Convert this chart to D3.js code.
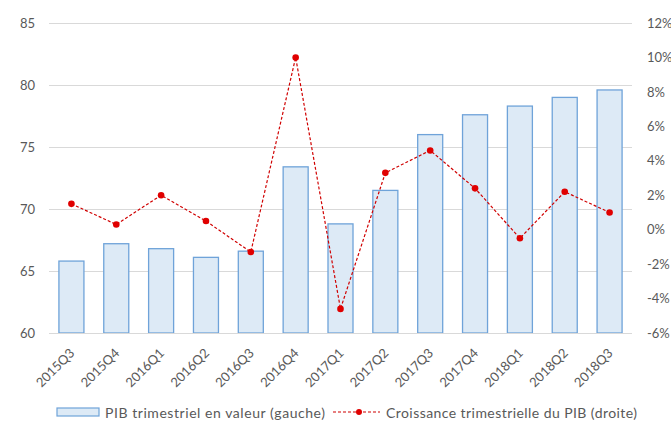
<!DOCTYPE html>
<html><head><meta charset="utf-8">
<script src="https://cdn.jsdelivr.net/npm/d3@7"></script>
<style>body{margin:0;background:#fff}svg text{font-family:Lato,"Open Sans",sans-serif;fill:#595959}</style>
</head><body><svg id="c" width="671" height="421"></svg>
<script>
const categories=["2015Q3","2015Q4","2016Q1","2016Q2","2016Q3","2016Q4","2017Q1","2017Q2","2017Q3","2017Q4","2018Q1","2018Q2","2018Q3"];
const pibValues=[65.8,67.2,66.8,66.1,66.6,73.4,68.8,71.5,76.0,77.6,78.3,79.0,79.6];
const growthValues=[1.5,0.3,2.0,0.5,-1.3,10.0,-4.6,3.3,4.6,2.4,-0.5,2.2,1.0];
const leftTicks=[60,65,70,75,80,85];
const rightTicks=[-6,-4,-2,0,2,4,6,8,10,12];
const legendLabels=["PIB trimestriel en valeur (gauche)","Croissance trimestrielle du PIB (droite)"];

const svg=d3.select("#c");
const L=49,R=632,T=23,B=333;
const x=d3.scaleBand().domain(categories).range([L,R]).paddingInner(0.42).paddingOuter(0.21);
const y=d3.scaleLinear().domain([60,85]).range([B,T]);
const y2=d3.scaleLinear().domain([-6,12]).range([B,T]);

// gridlines
svg.append("g").selectAll("line").data(leftTicks).join("line")
  .attr("x1",L).attr("x2",R).attr("y1",d=>y(d)+0.5).attr("y2",d=>y(d)+0.5)
  .attr("stroke","#d9d9d9").attr("stroke-width",1);

// left axis
const la=svg.append("g").attr("transform",`translate(${L},0)`)
  .call(d3.axisLeft(y).tickValues(leftTicks).tickSize(0).tickPadding(14));
la.select(".domain").remove();
la.selectAll("text").attr("font-size",13).style("fill","#595959");

// right axis
const ra=svg.append("g").attr("transform",`translate(${R},0)`)
  .call(d3.axisRight(y2).tickValues(rightTicks).tickSize(0).tickPadding(15).tickFormat(d=>d+"%"));
ra.select(".domain").remove();
ra.selectAll("text").attr("font-size",13).style("fill","#595959");

// bars
svg.append("g").selectAll("rect").data(pibValues).join("rect")
  .attr("x",(d,i)=>x(categories[i])+0.5).attr("width",x.bandwidth()-1)
  .attr("y",d=>y(d)).attr("height",d=>y(60)-y(d))
  .attr("fill","#ddeaf6").attr("stroke","#6fa3d9").attr("stroke-width",1.3);

// x axis labels
const xa=svg.append("g").attr("transform",`translate(0,${B})`)
  .call(d3.axisBottom(x).tickSize(0).tickPadding(0));
xa.select(".domain").remove();
xa.selectAll("text").attr("font-size",13).style("fill","#595959")
  .attr("text-anchor","end").attr("dy",0)
  .attr("transform","translate(4,21) rotate(-45)");

// baseline
svg.append("line").attr("x1",L).attr("x2",R).attr("y1",B+0.5).attr("y2",B+0.5).attr("stroke","#d9d9d9");

// line
const cx=(i)=>x(categories[i])+x.bandwidth()/2;
svg.append("path").datum(growthValues)
  .attr("d",d3.line().x((d,i)=>cx(i)).y(d=>y2(d)))
  .attr("fill","none").attr("stroke","#d00000").attr("stroke-width",1.2).attr("stroke-dasharray","3,2");
svg.append("g").selectAll("circle").data(growthValues).join("circle")
  .attr("cx",(d,i)=>cx(i)).attr("cy",d=>y2(d)).attr("r",3.3).attr("fill","#e00000");

// legend
const lg=svg.append("g");
lg.append("rect").attr("x",57).attr("y",408).attr("width",42).attr("height",8)
  .attr("fill","#ddeaf6").attr("stroke","#6fa3d9").attr("stroke-width",1.2);
lg.append("text").attr("x",105).attr("y",418).attr("font-size",14)
  .attr("textLength",220).attr("lengthAdjust","spacing").text(legendLabels[0]);
lg.append("line").attr("x1",333).attr("x2",380).attr("y1",412).attr("y2",412)
  .attr("stroke","#d00000").attr("stroke-width",1.2).attr("stroke-dasharray","3,2");
lg.append("circle").attr("cx",359).attr("cy",412).attr("r",3).attr("fill","#e00000");
lg.append("text").attr("x",386).attr("y",418).attr("font-size",14)
  .attr("textLength",251).attr("lengthAdjust","spacing").text(legendLabels[1]);
</script></body></html>
